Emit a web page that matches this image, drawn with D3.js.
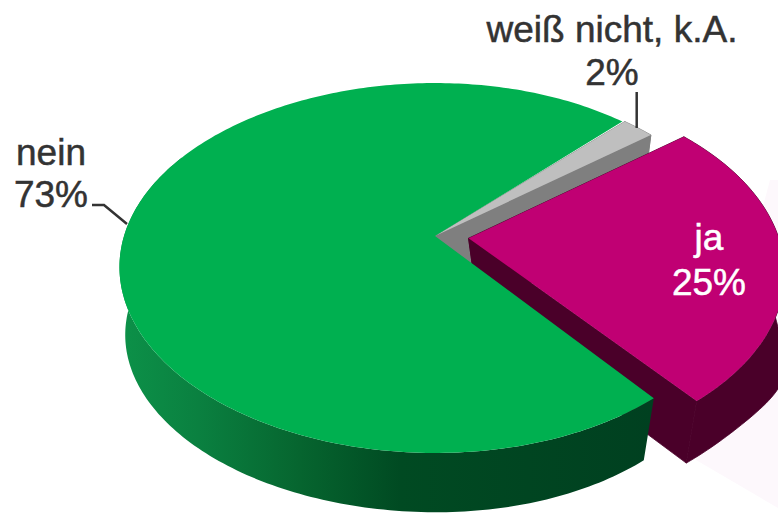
<!DOCTYPE html>
<html><head><meta charset="utf-8">
<script src="https://cdn.jsdelivr.net/npm/d3@7"></script>
<style>html,body{margin:0;padding:0;background:#fff}svg{display:block}text{font-family:"Liberation Sans",Arial,sans-serif;font-size:37px;stroke-width:.5px}</style>
</head><body><div id="c"></div>
<script>
const categories = ["nein","weiß nicht, k.A.","ja"];
const values = [73,2,25];
const percentLabels = ["73%","2%","25%"];
const topColors = ["#00b050","#bfbfbf","#c00073"];
const sideColors = ["url(#gs)","#7f7f7f","#4a0029"];
const W=778,H=514;
const svg=d3.select("#c").append("svg").attr("width",W).attr("height",H);
const defs=svg.append("defs");
const g=defs.append("linearGradient").attr("id","gs").attr("gradientUnits","userSpaceOnUse")
 .attr("x1",125).attr("x2",655).attr("y1",0).attr("y2",0);
[[0,"#0c9048"],[.14,"#0a8040"],[.33,"#06652f"],[.52,"#004a22"],[1,"#004020"]].forEach(s=>g.append("stop").attr("offset",s[0]).attr("stop-color",s[1]));
// perspective view of the disc
const deg=Math.PI/180, persp=-0.173;
const xS=d3.scaleLinear().domain([0,1]).range([435,741]);
const yS=d3.scaleLinear().domain([0,1]).range([236,374.6]);
const depth=0.0517, vp=[460,1600];
const xBias=[5,0,-3];
const lowShift=[
  (u,v)=>-12*Math.max(0,-u),
  ()=>0,
  (u,v)=>10*Math.pow(Math.max(0,1-v*v),2)+15*Math.exp(-Math.pow((v-.42)/.2,2))
];
function project(u,v,low,i){
  const w=1+persp*v;
  let x=435+(xS(u)-435)/w, y=yS(v)/w;
  x-=xBias[i]*u*u;
  if(low){
    x=vp[0]+(x-vp[0])*(1-depth)+lowShift[i](u,v);
    y=vp[1]+(y-vp[1])*(1-depth);
  }
  return [x,y];
}
const pie=d3.pie().sort(null).value(d=>d).startAngle(141.4*deg).endAngle(501.4*deg);
const arcs=pie(values);
const explode=[0,0,0.11];
function rim(d,i,low){
  const m=(d.startAngle+d.endAngle)/2,e=explode[i];
  const n=Math.ceil((d.endAngle-d.startAngle)/deg);
  return d3.range(n+1).map(k=>{
    const a=d.startAngle+(d.endAngle-d.startAngle)*k/n;
    return project(e*Math.sin(m)+Math.sin(a),-e*Math.cos(m)-Math.cos(a),low,i);
  });
}
function apex(d,i,low){
  const m=(d.startAngle+d.endAngle)/2,e=explode[i];
  return project(e*Math.sin(m),-e*Math.cos(m),low,i);
}
const line=d3.line().curve(d3.curveLinear);
const closed=p=>line(p)+"Z";
// faint reflection beside the exploded slice
svg.append("path").attr("d",closed([[696,460],[778,508],[778,180],[770,180]])).attr("fill","#fdf8fc");
// back slices first: grey, ja, then nein on top
[1,2,0].forEach(i=>{
  const d=arcs[i], at=apex(d,i,false), ab=apex(d,i,true);
  const t=rim(d,i,false), b=rim(d,i,true);
  // only the front part of the large slice shows a side wall
  const keep=i===0?Math.round(t.length*0.6):t.length;
  const side=closed(t.slice(0,keep).concat(b.slice(0,keep).reverse()));
  const sp=svg.append("path").attr("d",side).attr("fill",sideColors[i]);
  if(i!==0){
    sp.attr("stroke",sideColors[i]).attr("stroke-width",.8);
    [[t[0],b[0]],[t[t.length-1],b[b.length-1]]].forEach(e=>
      svg.append("path").attr("d",closed([at,e[0],e[1],ab])).attr("fill",sideColors[i]).attr("stroke",sideColors[i]).attr("stroke-width",.8));
  }
  svg.append("path").attr("d",closed([at].concat(t))).attr("fill",topColors[i]);
});
const ink="#333";
const lead=d3.line();
svg.append("path").attr("d",lead([[636.7,92],[636.7,128]])).attr("fill","none").attr("stroke",ink).attr("stroke-width",2.5);
svg.append("path").attr("d",lead([[92,205],[104,205],[127,224]])).attr("fill","none").attr("stroke",ink).attr("stroke-width",2.5);
const labels=[[51,165,207,ink],[612,42,85,ink],[709,250,295,"#fff"]];
labels.forEach((l,i)=>{
  [[categories[i],l[1]],[percentLabels[i],l[2]]].forEach(s=>
    svg.append("text").attr("x",l[0]).attr("y",s[1]).attr("text-anchor","middle").attr("fill",l[3]).attr("stroke",l[3]).text(s[0]));
});
</script></body></html>
